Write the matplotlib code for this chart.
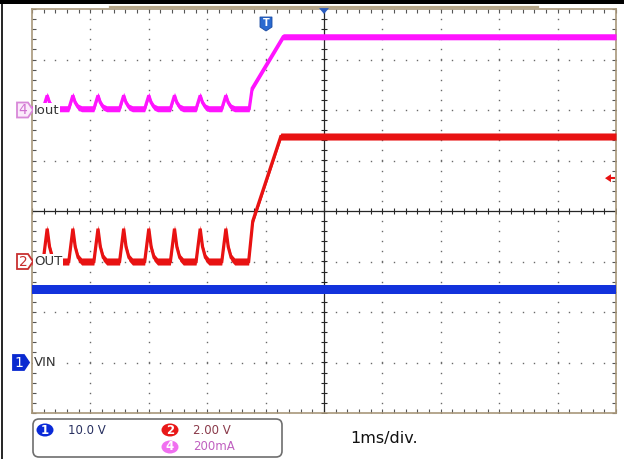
import numpy as np
import matplotlib.pyplot as plt
from matplotlib.patches import Polygon, FancyBboxPatch, Ellipse, Rectangle
from matplotlib.ticker import MultipleLocator

W, H = 624, 459
# graticule edges in pixels
GX0, GX1 = 32, 616
GY0, GY1 = 9, 413

# time base: 1 ms/div, 10 div across, trigger reference at the centre
pulse_t = [-4.74, -4.30, -3.87, -3.43, -3.00, -2.56, -2.12, -1.68]  # ms
# vertex offsets of one hiccup pulse (ms) and share of its height
pulse_dt = [-0.07, 0.0, 0.04, 0.09, 0.15]
pulse_frac = [0.0, 1.0, 0.45, 0.12, 0.0]

# ch4  Iout, 200 mA/div, ground marker at +2 div
iout_scale, iout_pos = 200.0, 2.0
iout_base, iout_peak = 5.0, 58.0
iout_ramp_t = [-1.28, -1.23, -0.70, 5.0]
iout_ramp_v = [5.0, 86.0, 290.0, 290.0]

# ch2  OUT, 2 V/div, ground marker at -1 div
vout_scale, vout_pos = 2.0, -1.0
vout_base, vout_peak = 0.0, 1.3
vout_ramp_t = [-1.29, -1.22, -0.74, 5.0]
vout_ramp_v = [0.0, 1.6, 4.95, 4.95]
trig_level = 3.3  # V, on ch2

# ch1  VIN, 10 V/div, ground marker at -3 div
vin_scale, vin_pos = 10.0, -3.0
vin_t = [-5.0, 5.0]
vin_v = [14.4, 14.4]

MAGENTA = '#ff14ff'
RED = '#e81212'
BLUE = '#1232dc'


def hiccup(base, peak, ramp_t, ramp_v):
    t, v = [-5.0], [base]
    for tp in pulse_t:
        for dt, f in zip(pulse_dt, pulse_frac):
            t.append(tp + dt)
            v.append(base + f * (peak - base))
    return np.array(t + ramp_t), np.array(v + ramp_v)


def trace(ax, t, y, color, half, lw):
    ax.fill_between(t, y - half, y + half, color=color, lw=0, zorder=4)
    ax.plot(t, y, color=color, lw=lw, zorder=4, solid_joinstyle='miter')


fig = plt.figure(figsize=(W / 100, H / 100), dpi=100, facecolor='white')
ax = fig.add_axes([GX0 / W, 1 - GY1 / H, (GX1 - GX0) / W, (GY1 - GY0) / H])
ax.set_xlim(-5, 5)
ax.set_ylim(-4, 4)

# graticule: dotted division lines, solid centre cross, edge ticks
fine = np.arange(-5, 5.001, 0.2)
fine_y = np.arange(-4, 4.001, 0.2)
for xi in range(-4, 5):
    if xi:
        ax.plot(np.full_like(fine_y, xi), fine_y, ls='none', marker='s',
                ms=1.0, color='#6a6a6a', mew=0, zorder=1)
for yi in range(-3, 4):
    if yi:
        ax.plot(fine, np.full_like(fine, yi), ls='none', marker='s',
                ms=1.0, color='#6a6a6a', mew=0, zorder=1)
ax.axhline(0, color='#262626', lw=0.9, zorder=2)
ax.axvline(0, color='#262626', lw=0.9, zorder=2)
ax.plot(fine, np.zeros_like(fine), ls='none', marker='|', ms=4,
        mew=0.8, color='#262626', zorder=2)
ax.plot(np.zeros_like(fine_y), fine_y, ls='none', marker='_', ms=4,
        mew=0.8, color='#262626', zorder=2)

ax.xaxis.set_major_locator(MultipleLocator(1))
ax.xaxis.set_minor_locator(MultipleLocator(0.2))
ax.yaxis.set_major_locator(MultipleLocator(1))
ax.yaxis.set_minor_locator(MultipleLocator(0.2))
ax.tick_params(which='both', direction='in', length=3, width=0.8,
               color='#555555', top=True, right=True,
               labelbottom=False, labelleft=False)
for s in ax.spines.values():
    s.set_color('#a8977a')
    s.set_linewidth(1.2)

# waveforms
t4, v4 = hiccup(iout_base, iout_peak, iout_ramp_t, iout_ramp_v)
t2, v2 = hiccup(vout_base, vout_peak, vout_ramp_t, vout_ramp_v)
trace(ax, np.array(vin_t), vin_pos + np.array(vin_v) / vin_scale, BLUE, 0.09, 1.5)
trace(ax, t2, vout_pos + v2 / vout_scale, RED, 0.07, 2.3)
trace(ax, t4, iout_pos + v4 / iout_scale, MAGENTA, 0.06, 2.3)

# screen decorations in pixel coordinates
ov = fig.add_axes([0, 0, 1, 1])
ov.set_xlim(0, W)
ov.set_ylim(H, 0)
ov.axis('off')

div_px = (GY1 - GY0) / 8
cy = (GY0 + GY1) / 2


def ypix(div):
    return cy - div * div_px


ov.add_patch(Rectangle((0, 0), W, 3.5, color='black', lw=0))
ov.plot([1.5, 1.5], [0, H], color='black', lw=1.2)
ov.plot([110, 538], [6.5, 6.5], color='#b4a486', lw=1.6)
ov.add_patch(Polygon([(319, 8), (329, 8), (324, 14)], closed=True,
                     fc='#2a5cc0', ec='none'))
ov.add_patch(Polygon([(260, 17), (272, 17), (272, 27), (266, 31), (260, 27)],
                     closed=True, fc='#2a6ad0', ec='#1a4aa0', lw=0.6))
ov.text(266, 23, 'T', color='white', fontsize=7, fontweight='bold',
        ha='center', va='center')

# trigger level arrow on the right edge
yt = ypix(vout_pos + trig_level / vout_scale)
ov.add_patch(Polygon([(605, yt), (611, yt - 4), (611, yt + 4)], closed=True,
                     fc=RED, ec='none'))
ov.plot([610, 614], [yt, yt], color=RED, lw=1.5)


def ch_marker(x0, yc, num, edge, face, txt_c, label):
    pts = [(x0, yc - 7.5), (x0 + 11, yc - 7.5), (x0 + 16, yc),
           (x0 + 11, yc + 7.5), (x0, yc + 7.5)]
    ov.add_patch(Polygon(pts, closed=True, fc=face, ec=edge, lw=1.3))
    ov.text(x0 + 6, yc + 0.5, num, color=txt_c, fontsize=10, ha='center',
            va='center')
    ov.text(34, yc, label, color='#333333', fontsize=9.5, ha='left',
            va='center', family=['Liberation Sans Narrow', 'DejaVu Sans'],
            bbox=dict(boxstyle='square,pad=0.05', fc='white', ec='none'))


ch_marker(17, ypix(iout_pos), '4', '#d888d8', '#fbeafb', '#d070d0', 'Iout')
ch_marker(17, ypix(vout_pos), '2', '#c83030', 'white', '#c83030', 'OUT')
ch_marker(13, ypix(vin_pos), '1', '#0a2ad0', '#0a2ad0', 'white', 'VIN')

# channel settings box
ov.add_patch(FancyBboxPatch((33, 419), 249, 38,
                            boxstyle='round,pad=0,rounding_size=6',
                            fc='white', ec='#6e6e6e', lw=1.2))
for xc, yc, num, col, txt, tc in [
        (45, 430, '1', '#0a2ad8', '10.0 V', '#283060'),
        (170, 430, '2', '#e81818', '2.00 V', '#8a3a4a'),
        (170, 447, '4', '#f070f0', '200mA', '#c060c0')]:
    ov.add_patch(Ellipse((xc, yc), 17, 13, fc=col, ec='none'))
    ov.text(xc, yc, num, color='white', fontsize=8.5, fontweight='bold',
            ha='center', va='center')
    ov.text(xc + 23, yc, txt, color=tc, fontsize=8.5, ha='left', va='center',
            family=['Liberation Sans Narrow', 'DejaVu Sans'])

ov.text(350, 439, '1ms/div.', color='#111111', fontsize=11.5,
        ha='left', va='center')

fig.savefig('out.png', dpi=100, facecolor='white')
